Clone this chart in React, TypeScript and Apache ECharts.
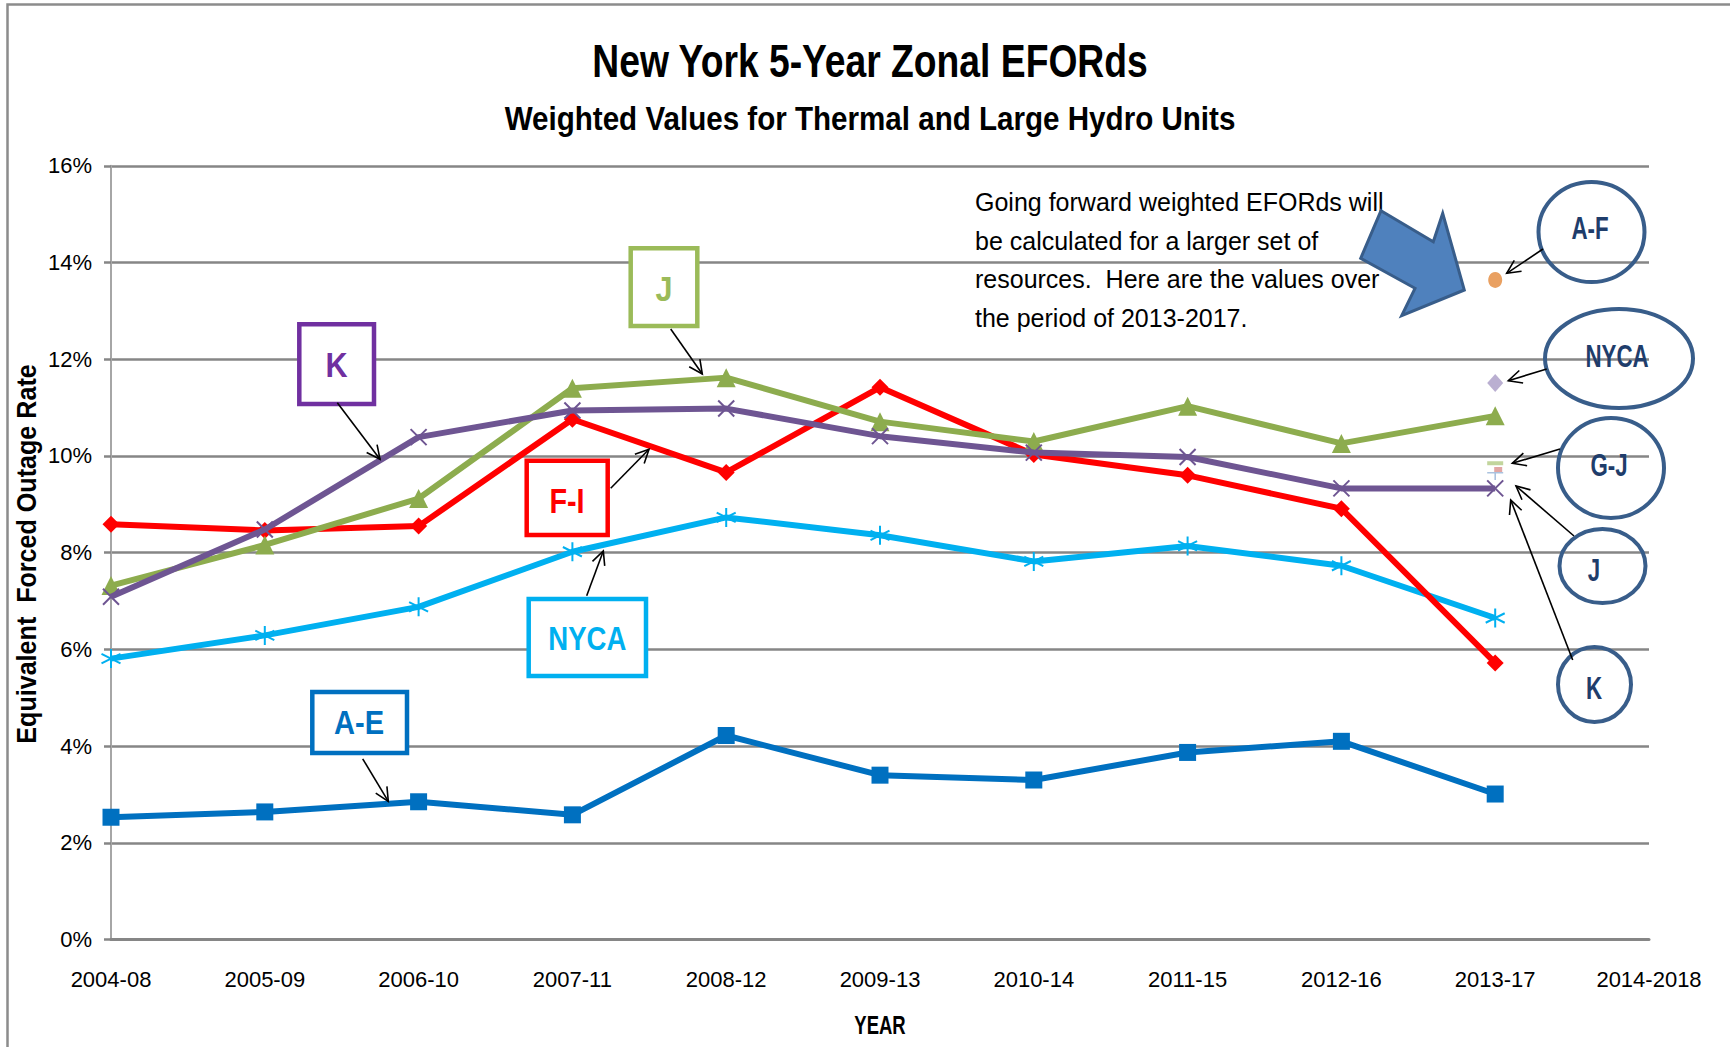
import React, { useEffect, useRef } from "react";
import * as echarts from "echarts";

// ---------- DATA ----------
const categories = [
  "2004-08", "2005-09", "2006-10", "2007-11", "2008-12",
  "2009-13", "2010-14", "2011-15", "2012-16", "2013-17", "2014-2018",
];
const yTickValues = [0, 2, 4, 6, 8, 10, 12, 14, 16];

const aeValues = [2.53, 2.64, 2.85, 2.58, 4.22, 3.40, 3.30, 3.87, 4.10, 3.01];
const nycaValues = [5.81, 6.29, 6.88, 8.02, 8.73, 8.36, 7.82, 8.14, 7.73, 6.65];
const fiValues = [8.59, 8.46, 8.55, 10.76, 9.66, 11.42, 10.03, 9.60, 8.91, 5.72];
const jValues = [7.32, 8.16, 9.12, 11.40, 11.62, 10.71, 10.30, 11.03, 10.26, 10.83];
const kValues = [7.09, 8.48, 10.39, 10.94, 10.98, 10.41, 10.07, 9.98, 9.33, 9.33];

// New, larger-set values for 2013-2017
const newSetCategory = "2013-17";
const afNewValue = 13.64;
const nycaNewValue = 11.51;
const gjNewValue = 9.85;
const jNewValue = 9.72;
const kNewValue = 9.65;

const noteLines = [
  "Going forward weighted EFORds will",
  "be calculated for a larger set of",
  "resources.  Here are the values over",
  "the period of 2013-2017.",
];

// ---------- STYLE ----------
const FONT = '"Liberation Sans", Arial, sans-serif';
const GRID = "#868686";
const C_AE = "#0070C0";
const C_NYCA = "#00B0F0";
const C_FI = "#FF0000";
const C_J = "#8DAC4E";
const C_K = "#6E5592";
const C_ELL = "#385D8A";
const C_ELL_TXT = "#1F3D6B";

const crossPath = "path://M0,0 L10,10 M10,0 L0,10";
const starPath = "path://M5,-1 L5,11 M0,2 L10,8 M10,2 L0,8";
const tPath = "path://M0,0 L16,0 L16,1.6 L8.8,1.6 L8.8,8 L7.2,8 L7.2,1.6 L0,1.6 Z";

function arrow(x1: number, y1: number, x2: number, y2: number) {
  const ang = Math.atan2(y2 - y1, x2 - x1);
  const L = 15;
  const a = 0.45;
  const p1 = [x2 - L * Math.cos(ang - a), y2 - L * Math.sin(ang - a)];
  const p2 = [x2 - L * Math.cos(ang + a), y2 - L * Math.sin(ang + a)];
  return [
    { type: "line", z: 200, shape: { x1, y1, x2, y2 }, style: { stroke: "#000", lineWidth: 1.6 } },
    { type: "polyline", z: 200, shape: { points: [p1, [x2, y2], p2] }, style: { stroke: "#000", lineWidth: 1.6, fill: null } },
  ];
}

function label(x: number, y: number, text: string, fs: number, sx: number, color = "#000", weight = "bold", extra: any = {}) {
  return {
    type: "text", z: 195, x, y, scaleX: sx, ...extra,
    style: { text, fill: color, font: `${weight} ${fs}px ${FONT}`, textAlign: "center", textVerticalAlign: "middle" },
  };
}

function box(x1: number, y1: number, x2: number, y2: number, color: string, text: string, tx: number, ty: number, fs: number, sx: number) {
  return [
    { type: "rect", z: 190, shape: { x: x1, y: y1, width: x2 - x1, height: y2 - y1 }, style: { fill: "#fff", stroke: color, lineWidth: 4.5 } },
    label(tx, ty, text, fs, sx, color),
  ];
}

function oval(cx: number, cy: number, rx: number, ry: number, text: string, tx: number, ty: number) {
  return [
    { type: "ellipse", z: 190, shape: { cx, cy, rx, ry }, style: { fill: null, stroke: C_ELL, lineWidth: 4 } },
    label(tx, ty, text, 31, 0.72, C_ELL_TXT),
  ];
}

export default function App() {
  const ref = useRef<HTMLDivElement>(null);

  useEffect(() => {
    if (!ref.current) return;
    const chart = echarts.init(ref.current, null, { renderer: "svg" });

    const lineSeries = (name: string, data: number[], color: string, symbol: string, size: any, z: number, hollow = false) => ({
      name,
      type: "line",
      data,
      z,
      symbol,
      symbolSize: size,
      showAllSymbol: true,
      lineStyle: { color, width: 6 },
      itemStyle: hollow ? { color, borderColor: color, borderWidth: 2 } : { color },
      emphasis: { disabled: true },
    });

    const graphics: any[] = [
      // chart outer border
      { type: "polyline", z: 1, shape: { points: [[7.5, 1100], [7.5, 4.5], [1800, 4.5]] }, style: { stroke: "#8C8C8C", lineWidth: 2.5, fill: null } },
      label(870, 61, "New York 5-Year Zonal EFORds", 46, 0.81),
      label(870, 118, "Weighted Values for Thermal and Large Hydro Units", 34, 0.87),
      label(880, 1025, "YEAR", 25, 0.74),
      label(26.5, 554, "Equivalent  Forced Outage Rate", 27, 0.93, "#000", "bold", { rotation: Math.PI / 2 }),
      {
        type: "text", x: 975, y: 183, z: 150,
        style: { text: noteLines.join("\n"), fill: "#000", font: `25px ${FONT}`, lineHeight: 38.5, textAlign: "left", textVerticalAlign: "top" },
      },
      {
        type: "polygon", z: 150,
        shape: { points: [[1381, 210.7], [1433.3, 241.7], [1442.7, 213.3], [1464.3, 290], [1401.7, 315.7], [1415, 288.3], [1360.7, 258.3]] },
        style: { fill: "#4F81BD", stroke: "#385D8A", lineWidth: 3 },
      },
      ...box(299.3, 324.3, 374, 404, "#7030A0", "K", 336.5, 365, 36, 0.85),
      ...arrow(337.3, 402.7, 380, 459.3),
      ...box(630.7, 248.3, 697.3, 326, "#9BBB59", "J", 664, 288.3, 36, 0.85),
      ...arrow(670.7, 329, 702.3, 374),
      ...box(526.7, 460.7, 607.7, 535, "#FF0000", "F-I", 567, 500, 36, 0.8),
      ...arrow(610.7, 488.3, 649, 449.3),
      ...box(528.7, 599, 646, 676, "#00B0F0", "NYCA", 587.3, 638.3, 34, 0.81),
      ...arrow(586.7, 595.7, 603.3, 551),
      ...box(312.3, 692, 407, 753, "#0070C0", "A-E", 359, 723, 33, 0.88),
      ...arrow(362.7, 758.8, 388.3, 801.3),
      ...oval(1591.5, 232, 53, 50, "A-F", 1590, 229),
      ...arrow(1543, 249, 1506.7, 273.3),
      ...oval(1619, 358.5, 74, 49.5, "NYCA", 1617, 357),
      ...arrow(1546.7, 369, 1508.3, 380.7),
      ...oval(1611, 468, 53, 50, "G-J", 1609, 466),
      ...arrow(1560, 449, 1512.3, 463.3),
      ...oval(1602.5, 566, 43, 37, "J", 1594, 571),
      ...arrow(1574, 536, 1516, 486),
      ...oval(1594.5, 684.5, 36.5, 37.5, "K", 1594, 689),
      ...arrow(1572.7, 660, 1510.7, 500),
    ];

    chart.setOption({
      animation: false,
      backgroundColor: "#fff",
      textStyle: { fontFamily: FONT },
      grid: { left: 111, right: 81, top: 165.8, bottom: 107.4, containLabel: false },
      xAxis: {
        type: "category",
        data: categories,
        boundaryGap: false,
        axisLine: { show: true, lineStyle: { color: GRID, width: 3 } },
        axisTick: { show: false },
        axisLabel: { color: "#000", fontSize: 22, fontFamily: FONT, margin: 29, interval: 0 },
        splitLine: { show: false },
      },
      yAxis: {
        type: "value",
        min: yTickValues[0],
        max: yTickValues[yTickValues.length - 1],
        interval: 2,
        axisLine: { show: true, lineStyle: { color: "#A6A6A6", width: 2 } },
        axisTick: { show: true, length: 7, lineStyle: { color: GRID, width: 2.5 } },
        axisLabel: { color: "#000", fontSize: 22, fontFamily: FONT, margin: 19, formatter: (v: number) => `${v}%` },
        splitLine: { show: true, lineStyle: { color: GRID, width: 2.5 } },
      },
      series: [
        lineSeries("A-E", aeValues, C_AE, "rect", 17, 3),
        lineSeries("NYCA", nycaValues, C_NYCA, starPath, 19, 4, true),
        lineSeries("F-I", fiValues, C_FI, "diamond", 17, 5),
        lineSeries("J", jValues, C_J, "triangle", 19, 6),
        lineSeries("K", kValues, C_K, crossPath, 16, 7, true),
        { name: "A-F new", type: "scatter", z: 8, data: [[newSetCategory, afNewValue]], symbol: "circle", symbolSize: [14, 16], itemStyle: { color: "#E3883A" } },
        { name: "NYCA new", type: "scatter", z: 8, data: [[newSetCategory, nycaNewValue]], symbol: "diamond", symbolSize: [16, 18], itemStyle: { color: "#A99BC6" } },
        { name: "G-J new", type: "scatter", z: 8, data: [[newSetCategory, gjNewValue]], symbol: "rect", symbolSize: [16, 4], itemStyle: { color: "#B3CB85" } },
        { name: "J new", type: "scatter", z: 8, data: [[newSetCategory, jNewValue]], symbol: "rect", symbolSize: [8, 5], symbolOffset: [3, 0], itemStyle: { color: "#D9908D" } },
        { name: "K new", type: "scatter", z: 8, data: [[newSetCategory, kNewValue]], symbol: tPath, symbolSize: [16, 8], symbolOffset: [0, 3], itemStyle: { color: "#95B3D7" } },
      ],
      graphic: graphics,
    });

    return () => chart.dispose();
  }, []);

  return (
    <div
      ref={ref}
      style={{ position: "fixed", left: 0, top: 0, width: 1730, height: 1047, background: "#fff" }}
    />
  );
}
